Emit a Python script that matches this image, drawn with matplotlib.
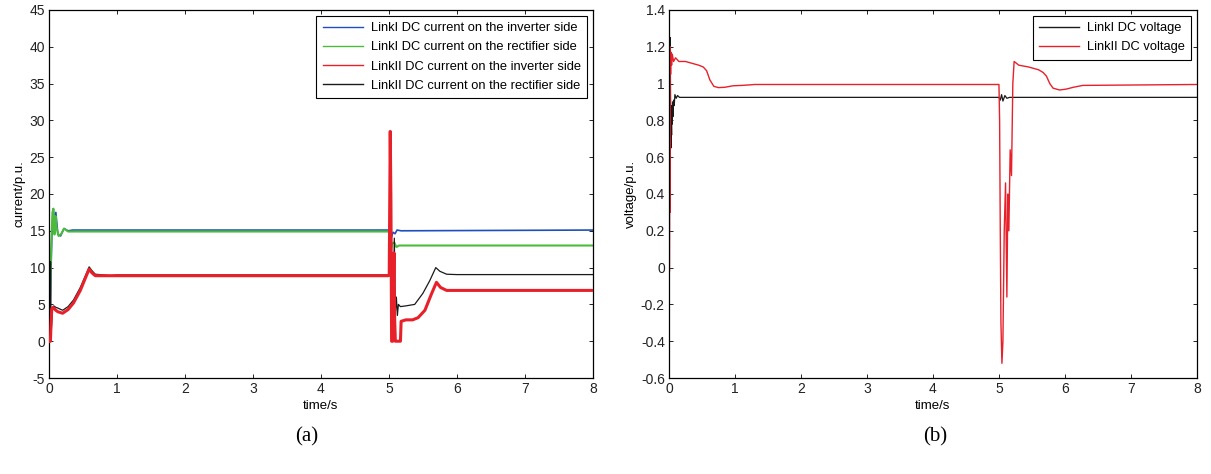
import matplotlib.pyplot as plt

# ── data (time in s, values in p.u.) ──────────────────────────────────────────
# (a) DC currents
t_blue = [0, 0.01, 0.02, 0.04, 0.06, 0.08, 0.10, 0.13, 0.17, 0.22, 0.28, 0.35,
          4.99, 5.01, 5.03, 5.06, 5.09, 5.12, 5.18, 8.0]
i_blue = [0, 0.5, 6, 14, 18, 16.5, 17.5, 14.5, 14.3, 15.3, 15.0, 15.1,
          15.1, 15.2, 13.9, 14.8, 14.6, 15.1, 15.0, 15.1]

t_green = [0, 0.015, 0.03, 0.05, 0.065, 0.08, 0.095, 0.11, 0.14, 0.18, 0.22,
           0.28, 0.35, 4.99, 5.01, 5.03, 5.05, 5.08, 5.11, 5.15, 8.0]
i_green = [5.5, 6, 12, 17.5, 18, 14.5, 17, 15.5, 14.3, 14.6, 15.3,
           14.9, 14.9, 14.9, 14.7, 12.4, 13.3, 13.4, 12.8, 13.0, 13.0]

t_red = [0, 0.01, 0.02, 0.03, 0.04, 0.06, 0.1, 0.13, 0.2, 0.28, 0.36, 0.46,
         0.54, 0.59, 0.63, 0.68, 0.8, 1.0, 4.99, 5.005, 5.02, 5.03, 5.04,
         5.06, 5.065, 5.075, 5.085, 5.095, 5.15, 5.17, 5.18, 5.25, 5.35, 5.43,
         5.53, 5.63, 5.70, 5.76, 5.85, 6.0, 8.0]
i_red = [0, 0.2, 0, 2.5, 4.4, 4.6, 4.2, 4.0, 3.8, 4.3, 5.2, 6.9,
         8.7, 9.8, 9.3, 8.9, 8.9, 8.9, 8.9, 9.0, 28.5, 19, 0,
         0, 6, 12, 3, 0, 0, 0, 2.7, 2.9, 2.9, 3.2,
         4.2, 6.5, 8.0, 7.3, 6.9, 6.9, 6.9]

t_black = [0, 0.008, 0.015, 0.022, 0.03, 0.04, 0.05, 0.07, 0.10, 0.13, 0.2,
           0.28, 0.36, 0.46, 0.54, 0.59, 0.63, 0.68, 0.8, 0.9, 1.0, 4.99,
           5.005, 5.02, 5.035, 5.05, 5.065, 5.08, 5.095, 5.11, 5.125, 5.14,
           5.17, 5.25, 5.38, 5.5, 5.6, 5.65, 5.69, 5.75, 5.85, 6.0, 8.0]
i_black = [0, 2, 5.8, 10.8, 1.0, 2.5, 4.5, 4.8, 4.6, 4.5, 4.2,
           4.7, 5.6, 7.3, 9.0, 10.1, 9.6, 9.1, 9.0, 8.9, 9.0, 9.0,
           9.1, 24.5, 13, 3, 5, 14, 4, 6, 3.5, 5,
           4.7, 4.8, 5.0, 6.5, 8.2, 9.2, 10.0, 9.5, 9.1, 9.05, 9.05]

# (b) DC voltages
t_v1 = [0, 0.012, 0.018, 0.025, 0.03, 0.035, 0.04, 0.045, 0.05, 0.055, 0.06,
        0.07, 0.08, 0.09, 0.11, 0.13, 0.16, 5.0, 5.02, 5.04, 5.06, 5.09,
        5.12, 5.16, 8.0]
v_v1 = [0, 0.9, 1.25, 0.9, 0.65, 0.8, 0.72, 0.88, 0.78, 0.9, 0.82,
        0.91, 0.88, 0.94, 0.92, 0.935, 0.925, 0.925, 0.91, 0.94, 0.905, 0.935,
        0.92, 0.925, 0.925]

t_v2 = [0, 0.008, 0.012, 0.016, 0.02, 0.025, 0.03, 0.04, 0.05, 0.07, 0.1,
        0.15, 0.25, 0.35, 0.45, 0.52, 0.57, 0.62, 0.68, 0.75, 0.85, 0.97,
        1.1, 1.23, 1.3, 5.0, 5.01, 5.02, 5.03, 5.045, 5.06, 5.08, 5.1, 5.12,
        5.135, 5.15, 5.17, 5.19, 5.21, 5.23, 5.3, 5.45, 5.6, 5.67, 5.72,
        5.77, 5.82, 5.92, 6.02, 6.13, 6.27, 8.0]
v_v2 = [0, -0.02, 0.7, 0.3, 1.2, 1.05, 1.17, 1.1, 1.16, 1.12, 1.14,
        1.12, 1.12, 1.11, 1.10, 1.09, 1.07, 1.02, 0.985, 0.978, 0.98, 0.988,
        0.99, 0.993, 0.995, 0.995, 0.8, 0.2, -0.3, -0.52, -0.4, 0.2, 0.46, -0.16,
        0.4, 0.2, 0.64, 0.5, 1.0, 1.12, 1.10, 1.09, 1.075, 1.06, 1.04,
        1.0, 0.975, 0.965, 0.97, 0.98, 0.99, 0.995]

x_ticks = list(range(0, 9))
yticks_a = list(range(-5, 50, 5))
yticks_b = [-0.6, -0.4, -0.2, 0, 0.2, 0.4, 0.6, 0.8, 1, 1.2, 1.4]
ylabels_b = ["-0.6", "-0.4", "-0.2", "0", "0.2", "0.4", "0.6", "0.8", "1", "1.2", "1.4"]

BLUE, GREEN, RED, BLACK = "#1f4fbf", "#4cbb3c", "#e8202a", "#1a1a1a"

plt.rcParams["font.family"] = ["Liberation Sans", "DejaVu Sans"]

fig = plt.figure(figsize=(12.11, 4.74), dpi=100)
ax1 = fig.add_axes([0.0405, 0.2025, 0.449, 0.7765])
ax2 = fig.add_axes([0.5524, 0.2025, 0.436, 0.7765])


def style(ax, yticks, ylabels, ylabel):
    ax.set_xlim(0, 8)
    ax.set_xticks(x_ticks)
    ax.set_yticks(yticks)
    ax.set_yticklabels(ylabels)
    ax.set_ylim(yticks[0], yticks[-1])
    ax.tick_params(direction="in", top=True, right=True, labelsize=10,
                   length=3, width=0.6, pad=3, labelcolor="#222222")
    for s in ax.spines.values():
        s.set_linewidth(0.9)
    ax.set_xlabel("time/s", fontsize=9.5, labelpad=3)
    ax.set_ylabel(ylabel, fontsize=9.5, labelpad=3)


def legend(ax):
    leg = ax.legend(loc="upper right", fontsize=9.3, fancybox=False, framealpha=1,
                    edgecolor="black", handlelength=3.1, handletextpad=0.6,
                    borderaxespad=0.45, labelspacing=0.55, borderpad=0.5)
    leg.get_frame().set_linewidth(0.8)
    for ln in leg.get_lines():
        ln.set_linewidth(1.0)


# ── (a) ───────────────────────────────────────────────────────────────────────
ax1.plot(t_blue, i_blue, color=BLUE, lw=1.2, label="LinkI DC current on the inverter side")
ax1.plot(t_green, i_green, color=GREEN, lw=1.5, label="LinkI DC current on the rectifier side")
ax1.plot(t_red, i_red, color=RED, lw=2.2, zorder=3, label="LinkII DC current on the inverter side")
ax1.plot(t_black, i_black, color=BLACK, lw=0.9, label="LinkII DC current on the rectifier side")
style(ax1, yticks_a, [str(v) for v in yticks_a], "current/p.u.")
legend(ax1)

# ── (b) ───────────────────────────────────────────────────────────────────────
ax2.plot(t_v1, v_v1, color=BLACK, lw=0.9, label="LinkI DC voltage")
ax2.plot(t_v2, v_v2, color=RED, lw=1.0, label="LinkII DC voltage")
style(ax2, yticks_b, ylabels_b, "voltage/p.u.")
legend(ax2)

fig.text(307 / 1211, 1 - 437 / 474, "(a)", fontsize=15, ha="center", va="center",
         family="Liberation Serif")
fig.text(935 / 1211, 1 - 437 / 474, "(b)", fontsize=15, ha="center", va="center",
         family="Liberation Serif")

fig.savefig("out.png", dpi=100)
